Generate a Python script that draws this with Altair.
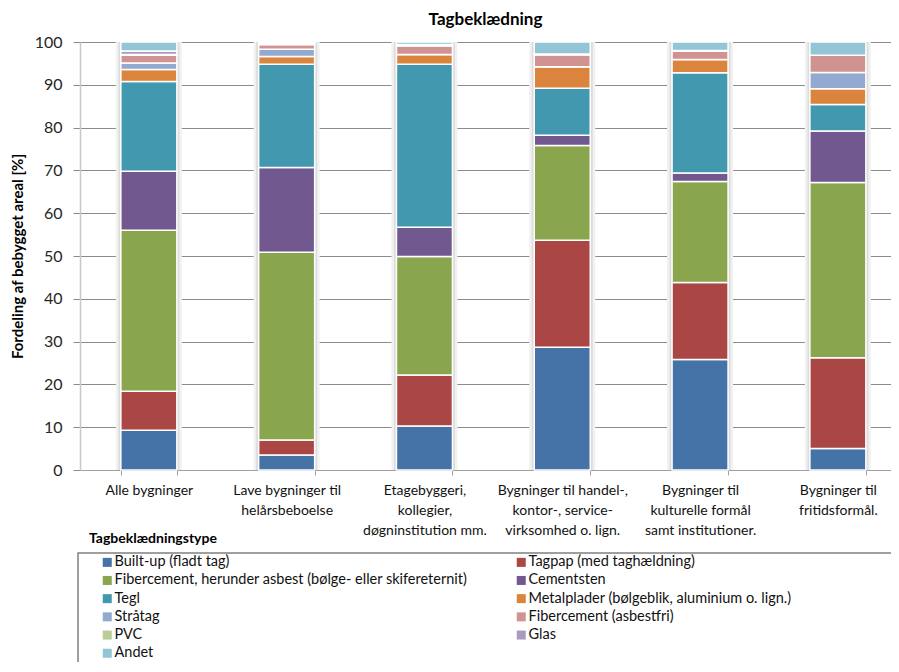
import altair as alt
import pandas as pd

categories = [
    "Alle bygninger",
    "Lave bygninger til|helårsbeboelse",
    "Etagebyggeri,|kollegier,|døgninstitution mm.",
    "Bygninger til handel-,|kontor-, service-|virksomhed o. lign.",
    "Bygninger til|kulturelle formål|samt institutioner.",
    "Bygninger til|fritidsformål.",
]

types = [
    "Built-up (fladt tag)",
    "Tagpap (med taghældning)",
    "Fibercement, herunder asbest (bølge- eller skifereternit)",
    "Cementsten",
    "Tegl",
    "Metalplader (bølgeblik, aluminium o. lign.)",
    "Stråtag",
    "Fibercement (asbestfri)",
    "PVC",
    "Glas",
    "Andet",
]

colors = ["#4572A7", "#AA4643", "#89A54E", "#71588F", "#4198AF", "#DB843D",
          "#93A9CF", "#D19392", "#B9CD96", "#A99BBD", "#92C5D5"]

# values per category, in the order of `types` (bottom to top)
alle = [9.3, 9.1, 37.6, 13.8, 21.0, 2.8, 1.5, 1.8, 0.2, 0.8, 2.1]
lave = [3.5, 3.5, 43.9, 19.8, 24.1, 1.8, 1.7, 1.1, 0.0, 0.3, 0.3]
etage = [10.3, 11.9, 27.7, 6.8, 38.1, 2.3, 0.0, 2.0, 0.0, 0.3, 0.6]
handel = [28.7, 25.0, 22.1, 2.4, 11.0, 5.0, 0.0, 2.8, 0.0, 0.2, 2.8]
kultur = [25.8, 18.0, 23.6, 2.0, 23.4, 3.1, 0.0, 2.0, 0.0, 0.1, 2.0]
fritid = [5.0, 21.2, 41.0, 12.0, 6.2, 3.7, 3.8, 4.0, 0.0, 0.0, 3.1]

series = [alle, lave, etage, handel, kultur, fritid]

title_text = "Tagbeklædning"
y_title = "Fordeling af bebygget areal [%]"
legend_title = "Tagbeklædningstype"

rows = []
for cat, vals in zip(categories, series):
    for i, (t, v) in enumerate(zip(types, vals)):
        rows.append({"cat": cat, "type": t, "idx": i, "value": v})
df = pd.DataFrame(rows)

# legend is filled column by column; order entries so rows read pairwise
leg_order = [0, 2, 4, 6, 8, 10, 1, 3, 5, 7, 9]
leg_domain = [types[i] for i in leg_order]
leg_range = [colors[i] for i in leg_order]

FONT = "Lato"

x_enc = alt.X(
    "cat:N",
    sort=categories,
    scale=alt.Scale(paddingInner=0.594, paddingOuter=0.2396, align=0.619),
    axis=alt.Axis(
        title=None,
        labelExpr="split(datum.label, '|')",
        labelAngle=0,
        labelFontSize=14,
        labelFont=FONT,
        labelColor="#111111",
        labelLineHeight=20,
        labelPadding=8,
        labelLimit=250,
        domainColor="#a0a0a0",
        domainWidth=1,
        tickBand="extent",
        tickSize=5,
        tickColor="#a0a0a0",
        grid=False,
    ),
)

y_axis = alt.Axis(
    title=y_title,
    values=list(range(0, 101, 10)),
    titleFont=FONT,
    titleFontSize=15,
    titleFontWeight="bold",
    titleColor="#000000",
    titlePadding=9,
    labelFont=FONT,
    labelFontSize=16,
    labelColor="#262626",
    labelPadding=11,
    grid=True,
    gridColor="#8c8c8c",
    gridWidth=1,
    domainColor="#c8c8c8",
    domainWidth=1.5,
    tickColor="#8c8c8c",
    tickSize=7,
)
y_scale = alt.Scale(domain=[0, 100], nice=False)

shadow_outer = alt.Chart(df).mark_bar(size=66, color="#f1f1f1").encode(
    x=x_enc,
    y=alt.Y("sum(value):Q", scale=y_scale, axis=y_axis),
)
shadow_inner = alt.Chart(df).mark_bar(size=61, color="#dcdcdc").encode(
    x=x_enc,
    y=alt.Y("sum(value):Q", scale=y_scale, axis=y_axis),
)

bars = alt.Chart(df).mark_bar(size=56, stroke="white", strokeWidth=1.5).encode(
    x=x_enc,
    y=alt.Y("value:Q", stack="zero", scale=y_scale, axis=y_axis),
    color=alt.Color(
        "type:N",
        scale=alt.Scale(domain=leg_domain, range=leg_range),
        legend=alt.Legend(
            title=None,
            orient="none",
            direction="vertical",
            legendX=20,
            legendY=513,
            columns=2,
            columnPadding=46,
            rowPadding=3.2,
            padding=0,
            symbolType="square",
            symbolSize=81,
            symbolStrokeWidth=0,
            labelOffset=0,
            labelFont=FONT,
            labelFontSize=14.5,
            labelColor="#111111",
            labelLimit=500,
        ),
    ),
    order=alt.Order("idx:Q", sort="ascending"),
)

meta = pd.DataFrame({"t": [legend_title]})
box = alt.Chart(meta).mark_rect(fillOpacity=0, stroke="#808080", strokeWidth=1.5).encode(
    x=alt.value(-2), x2=alt.value(840), y=alt.value(511), y2=alt.value(700)
)
leg_title = alt.Chart(meta).mark_text(
    font=FONT, fontSize=14, fontWeight="bold", align="left", baseline="middle", color="#000000"
).encode(x=alt.value(9), y=alt.value(497), text="t:N")

chart = alt.layer(shadow_outer, shadow_inner, bars, box, leg_title).properties(
    width=811,
    height=428,
    padding={"left": 72, "top": 34, "right": 0, "bottom": 192},
    autosize=alt.AutoSizeParams(type="none"),
    title=alt.TitleParams(
        title_text, font=FONT, fontSize=17, fontWeight="bold", color="#000000",
        anchor="middle", offset=5,
    ),
).configure_view(stroke=None).configure(background="white")

chart.save("out.html", embed_options={"renderer": "svg", "actions": False})
